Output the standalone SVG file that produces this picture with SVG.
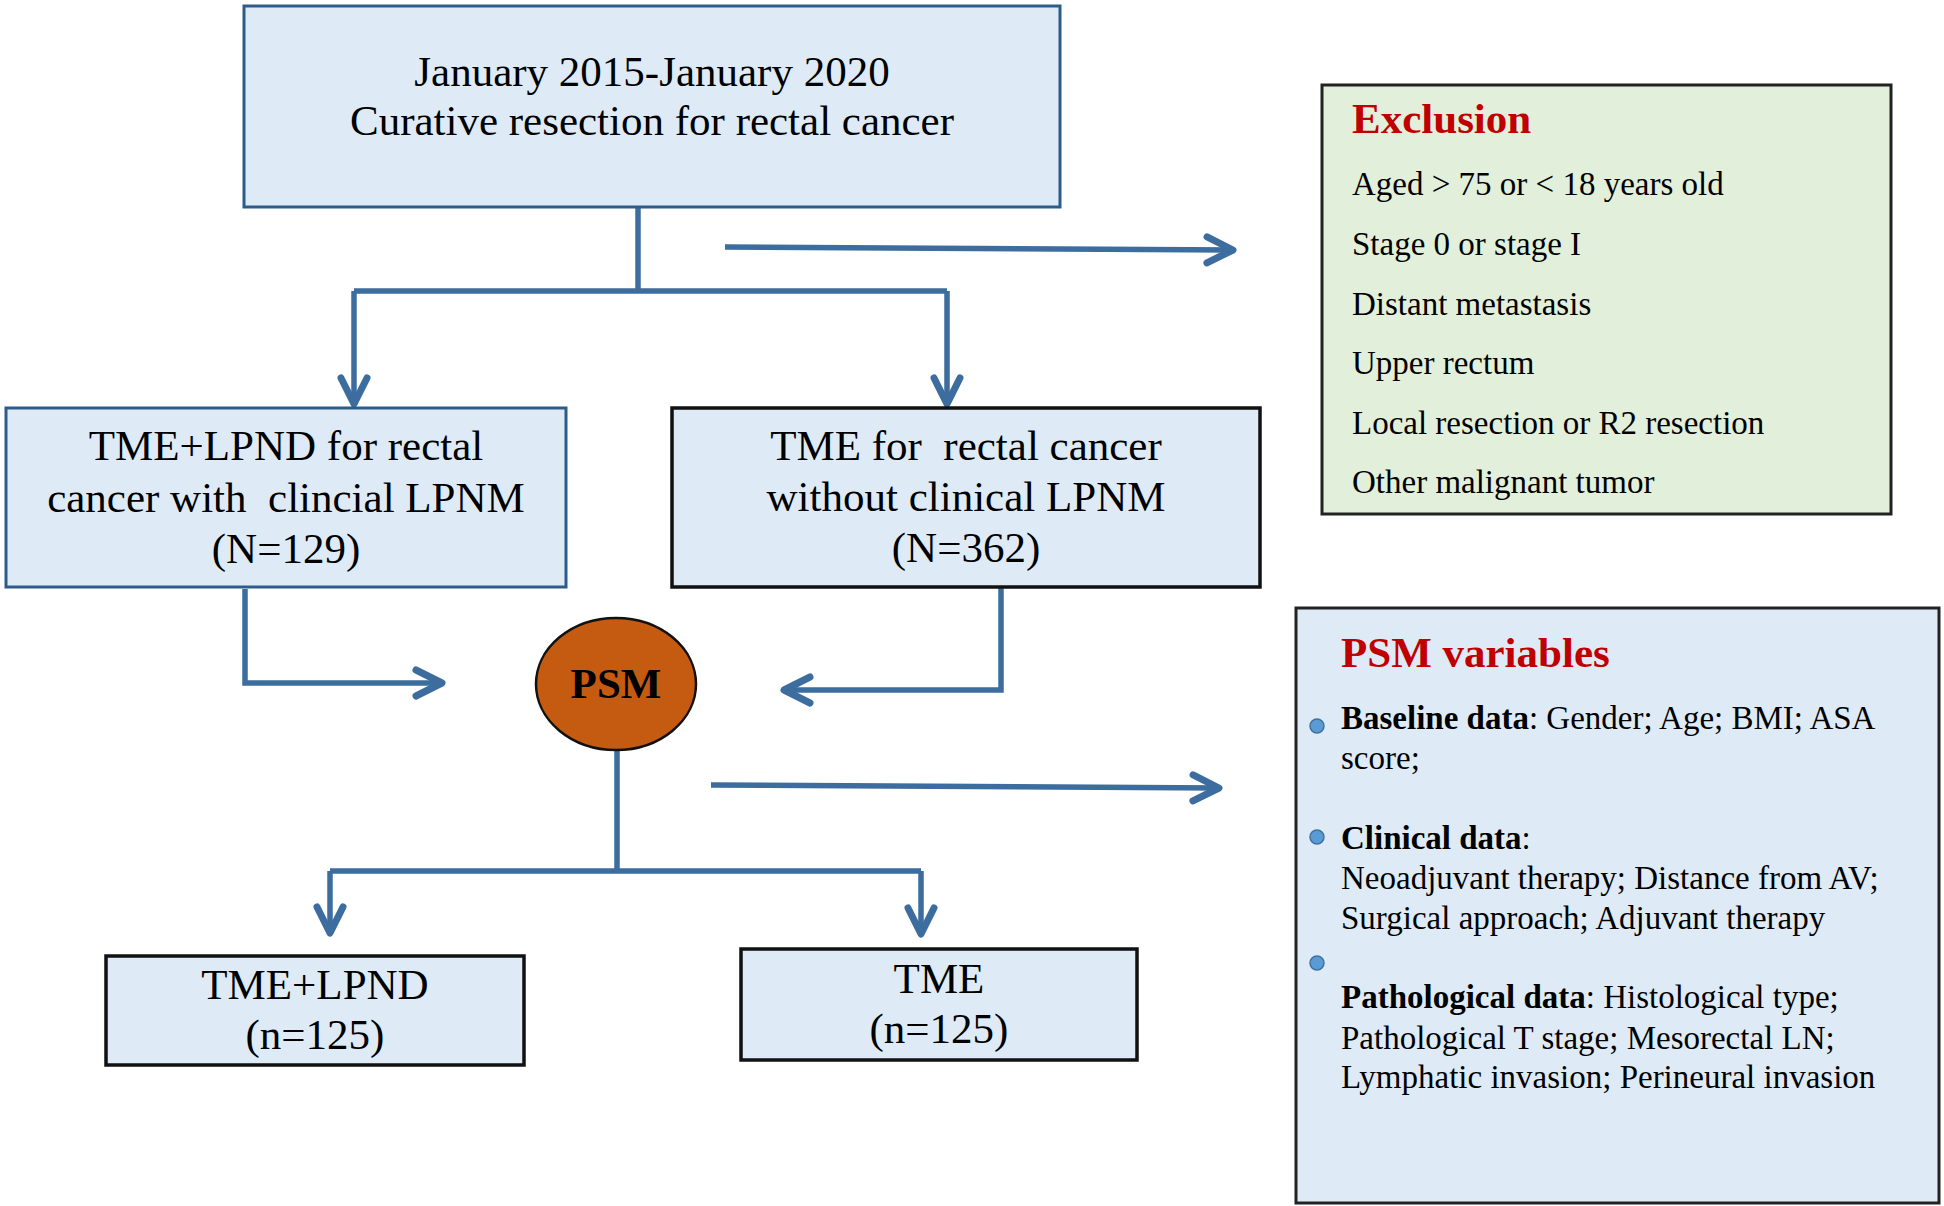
<svg xmlns="http://www.w3.org/2000/svg" width="1944" height="1206" viewBox="0 0 1944 1206">
<style>
.t{font-family:"Liberation Serif","Times New Roman",serif;fill:#000;}
.big{font-size:43px;text-anchor:middle;}
.sm{font-size:33px;}
.hd{font-size:43px;font-weight:bold;fill:#C00000;}
.b{font-weight:bold;}
.boxb{fill:#DEEBF7;stroke:#2E5C8A;stroke-width:3;}
.boxk{fill:#DEEBF7;stroke:#111;stroke-width:3.5;}
.conn{fill:none;stroke:#3C6D9E;stroke-width:5.5;}
.arr{marker-end:url(#chev);}
.dot{fill:#5B9BD5;stroke:#41719C;stroke-width:1.5;}
</style>
<defs>
<marker id="chev" markerUnits="userSpaceOnUse" viewBox="-32 -18 38 36" refX="0" refY="0" markerWidth="38" markerHeight="36" orient="auto" overflow="visible">
<path d="M -26 -13 L 0 0 L -26 13" fill="none" stroke="#3C6D9E" stroke-width="7" stroke-linecap="round" stroke-linejoin="round"/>
</marker>
</defs>
<rect width="1944" height="1206" fill="#fff"/>

<g id="connectors">
<path class="conn" d="M 638 207 V 291"/>
<path class="conn" d="M 354 291 H 947"/>
<path class="conn arr" d="M 354 291 V 404"/>
<path class="conn arr" d="M 947 291 V 404"/>
<path class="conn arr" d="M 725 247 L 1233 250"/>
<path class="conn arr" d="M 245 589 V 683 H 442"/>
<path class="conn arr" d="M 1001 588 V 690 H 784"/>
<path class="conn" d="M 617 750 V 871"/>
<path class="conn" d="M 330 871 H 921"/>
<path class="conn arr" d="M 330 871 V 933"/>
<path class="conn arr" d="M 921 871 V 934"/>
<path class="conn arr" d="M 711 785 L 1219 788"/>
</g>

<g id="start">
<rect class="boxb" x="244" y="6" width="816" height="201"/>
<text class="t big" x="652" y="86">January 2015-January 2020</text>
<text class="t big" x="652" y="135">Curative resection for rectal cancer</text>
</g>

<g id="exclusion">
<rect x="1322" y="85" width="569" height="429" fill="#E2EFDA" stroke="#222" stroke-width="3"/>
<text class="t hd" x="1352" y="133">Exclusion</text>
<text class="t sm" x="1352" y="195">Aged &gt; 75 or &lt; 18 years old</text>
<text class="t sm" x="1352" y="255">Stage 0 or stage I</text>
<text class="t sm" x="1352" y="315">Distant metastasis</text>
<text class="t sm" x="1352" y="374">Upper rectum</text>
<text class="t sm" x="1352" y="434">Local resection or R2 resection</text>
<text class="t sm" x="1352" y="493">Other malignant tumor</text>
</g>

<g id="lpnd-group">
<rect class="boxb" x="6" y="408" width="560" height="179"/>
<text class="t big" x="286" y="460">TME+LPND for rectal</text>
<text class="t big" x="286" y="512" style="white-space:pre">cancer with  clincial LPNM</text>
<text class="t big" x="286" y="563">(N=129)</text>
</g>

<g id="tme-group">
<rect class="boxk" x="672" y="408" width="588" height="179"/>
<text class="t big" x="966" y="460" style="white-space:pre">TME for  rectal cancer</text>
<text class="t big" x="966" y="511">without clinical LPNM</text>
<text class="t big" x="966" y="562">(N=362)</text>
</g>

<g id="psm">
<ellipse cx="616" cy="684" rx="80" ry="66" fill="#C55A11" stroke="#111" stroke-width="2.5"/>
<text class="t big b" x="616" y="698">PSM</text>
</g>

<g id="psm-variables">
<rect x="1296" y="608" width="643" height="595" fill="#DEEBF7" stroke="#222" stroke-width="3"/>
<text class="t hd" x="1341" y="667">PSM variables</text>
<circle class="dot" cx="1317" cy="726" r="7"/>
<circle class="dot" cx="1317" cy="837" r="7"/>
<circle class="dot" cx="1317" cy="963" r="7"/>
<text class="t sm" x="1341" y="729"><tspan class="b">Baseline data</tspan>: Gender; Age; BMI; ASA</text>
<text class="t sm" x="1341" y="769">score;</text>
<text class="t sm" x="1341" y="849"><tspan class="b">Clinical data</tspan>:</text>
<text class="t sm" x="1341" y="889">Neoadjuvant therapy; Distance from AV;</text>
<text class="t sm" x="1341" y="929">Surgical approach; Adjuvant therapy</text>
<text class="t sm" x="1341" y="1008"><tspan class="b">Pathological data</tspan>: Histological type;</text>
<text class="t sm" x="1341" y="1049">Pathological T stage; Mesorectal LN;</text>
<text class="t sm" x="1341" y="1088">Lymphatic invasion; Perineural invasion</text>
</g>

<g id="tme-lpnd-matched">
<rect class="boxk" x="106" y="956" width="418" height="109"/>
<text class="t big" x="315" y="999">TME+LPND</text>
<text class="t big" x="315" y="1049">(n=125)</text>
</g>

<g id="tme-matched">
<rect class="boxk" x="741" y="949" width="396" height="111"/>
<text class="t big" x="939" y="993">TME</text>
<text class="t big" x="939" y="1043">(n=125)</text>
</g>
</svg>
